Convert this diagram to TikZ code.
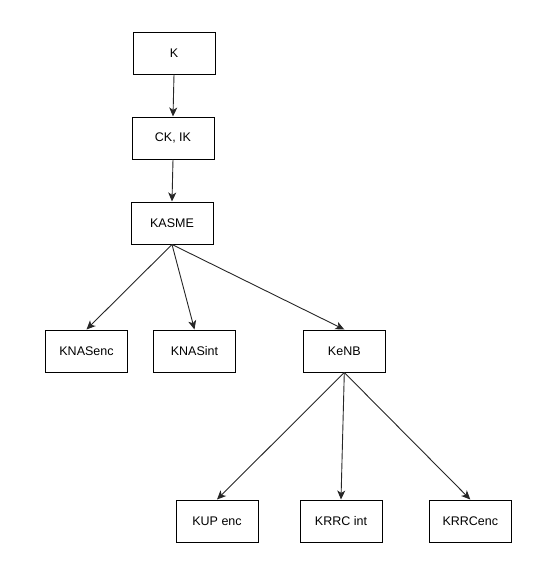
\documentclass[tikz,border=0pt]{standalone}
\usepackage{fontspec}
\setmainfont{Liberation Sans}
\usepackage{tikz}
\usetikzlibrary{arrows.meta}
\usetikzlibrary{positioning}
\tikzset{
    keybox/.style = {rectangle, draw=black, line width=1pt, fill=white, align=center, minimum width=82pt, minimum height=42pt, inner sep=0pt},
}
\begin{document}
\begin{tikzpicture}[
	x=1pt, y=-1pt,
	font=\fontsize{12.5}{15}\selectfont
]
\tikzset{
    edgek/.style = {-{Stealth[length=9pt,width=8pt,inset=2.5pt]}, line width=0.9pt, black!85},
}
\useasboundingbox (0,0) rectangle (551,584);
\node[keybox] at (174,53) (k) {K};
\node[keybox] at (173,138) (ck) {CK, IK};
\node[keybox] at (172,223) (kasme) {KASME};
\node[keybox] at (86.5,351) (knasenc) {KNASenc};
\node[keybox] at (194.5,351) (knasint) {KNASint};
\node[keybox] at (344.3,351) (kenb) {KeNB};
\node[keybox] at (217,521) (kupenc) {KUP enc};
\node[keybox] at (341,521) (krrcint) {KRRC int};
\node[keybox] at (470.3,521) (krrcenc) {KRRCenc};
%
\draw[edgek] (k.south) -- (ck.north);
\draw[edgek] (ck.south) -- (kasme.north);
%
\draw[edgek] (kasme.south) -- (knasenc.north);
\draw[edgek] (kasme.south) -- (knasint.north);
\draw[edgek] (kasme.south) -- (kenb.north);
%
\draw[edgek] (kenb.south) -- (kupenc.north);
\draw[edgek] (kenb.south) -- (krrcint.north);
\draw[edgek] (kenb.south) -- (krrcenc.north);
\end{tikzpicture}
\end{document}
